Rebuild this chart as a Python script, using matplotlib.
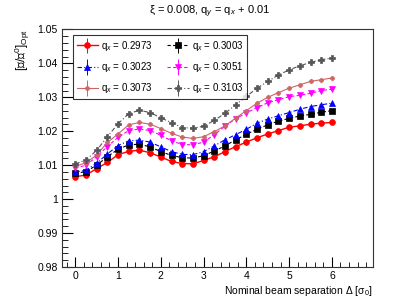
import matplotlib
matplotlib.use("Agg")
import matplotlib.pyplot as plt
from matplotlib.ticker import MultipleLocator, FixedLocator
from matplotlib.container import ErrorbarContainer
from matplotlib.legend_handler import HandlerErrorbar
import numpy as np

plt.rcParams['font.family'] = ['Liberation Sans', 'DejaVu Sans']
plt.rcParams['mathtext.fontset'] = 'custom'
plt.rcParams['mathtext.rm'] = 'Liberation Sans'
plt.rcParams['mathtext.it'] = 'Liberation Sans:italic'

separation = [0.0, 0.25, 0.5, 0.75, 1.0, 1.25, 1.5, 1.75, 2.0, 2.25, 2.5, 2.75, 3.0,
              3.25, 3.5, 3.75, 4.0, 4.25, 4.5, 4.75, 5.0, 5.25, 5.5, 5.75, 6.0]

q_2973 = [1.0066, 1.0071, 1.0090, 1.0108, 1.0131, 1.0141, 1.0144, 1.0137, 1.0124, 1.0111,
          1.0105, 1.0104, 1.0114, 1.0125, 1.0140, 1.0155, 1.0168, 1.0181, 1.0192, 1.0202,
          1.0212, 1.0216, 1.0221, 1.0224, 1.0226]
q_3003 = [1.0076, 1.0081, 1.0100, 1.0125, 1.0147, 1.0160, 1.0162, 1.0154, 1.0140, 1.0129,
          1.0122, 1.0121, 1.0128, 1.0142, 1.0157, 1.0175, 1.0191, 1.0206, 1.0219, 1.0230,
          1.0238, 1.0245, 1.0250, 1.0256, 1.0261]
q_3023 = [1.0080, 1.0085, 1.0106, 1.0133, 1.0158, 1.0172, 1.0174, 1.0168, 1.0154, 1.0140,
          1.0132, 1.0131, 1.0140, 1.0157, 1.0175, 1.0190, 1.0206, 1.0224, 1.0236, 1.0246,
          1.0255, 1.0265, 1.0273, 1.0278, 1.0283]
q_3051 = [1.0091, 1.0100, 1.0125, 1.0155, 1.0182, 1.0202, 1.0207, 1.0202, 1.0188, 1.0172,
          1.0161, 1.0160, 1.0168, 1.0190, 1.0215, 1.0237, 1.0254, 1.0270, 1.0284, 1.0293,
          1.0302, 1.0306, 1.0312, 1.0320, 1.0324]
q_3073 = [1.0097, 1.0107, 1.0130, 1.0167, 1.0192, 1.0219, 1.0226, 1.0221, 1.0208, 1.0194,
          1.0183, 1.0179, 1.0184, 1.0199, 1.0216, 1.0239, 1.0261, 1.0283, 1.0300, 1.0314,
          1.0327, 1.0337, 1.0347, 1.0352, 1.0357]
q_3103 = [1.0104, 1.0115, 1.0144, 1.0184, 1.0222, 1.0252, 1.0262, 1.0255, 1.0240, 1.0225,
          1.0211, 1.0209, 1.0215, 1.0232, 1.0253, 1.0278, 1.0303, 1.0327, 1.0347, 1.0366,
          1.0381, 1.0393, 1.0403, 1.0411, 1.0416]

labels = ['0.2973', '0.3003', '0.3023', '0.3051', '0.3073', '0.3103']
series = [q_2973, q_3003, q_3023, q_3051, q_3073, q_3103]
colors = ['#ff0000', '#000000', '#0000ff', '#ff00ff', '#cc6666', '#555555']
markers = ['o', 's', '^', 'v', 'P', 'P']
msizes = [4.2, 4.2, 4.2, 4.2, 3.2, 4.5]
lstyles = ['-', (0, (3, 2)), (0, (4, 2, 1, 2)), (0, (3, 2)), '-', (0, (4, 2, 1, 2))]
lwidths = [1.0, 0.8, 0.8, 0.8, 0.8, 0.8]

fig = plt.figure(figsize=(4.15, 3.0), dpi=100)
ax = fig.add_axes([0.1494, 0.11, 0.7494, 0.7917])

handles = []
for y, lab, c, m, ms, ls, lw in zip(series, labels, colors, markers, msizes, lstyles, lwidths):
    ax.plot(separation, y, color=c, marker=m, markersize=ms, linestyle=ls,
            linewidth=lw, markeredgewidth=0.5)
    # legend proxy (error-bar style entry, no data)
    h = ax.errorbar([], [], yerr=[], color=c, marker=m, markersize=ms,
                    linestyle=ls, linewidth=lw, elinewidth=0.7, capsize=1.5,
                    markeredgewidth=0.5, label=r'q$_{x}$ = ' + lab)
    handles.append(h)

ax.set_xlim(-0.31, 6.96)
ax.set_ylim(0.98, 1.05)
ax.xaxis.set_major_locator(FixedLocator([0, 1, 2, 3, 4, 5, 6]))
ax.xaxis.set_minor_locator(MultipleLocator(0.2))
ax.yaxis.set_minor_locator(MultipleLocator(0.002))
ax.set_yticks([0.98, 0.99, 1.0, 1.01, 1.02, 1.03, 1.04, 1.05])
ax.set_yticklabels(['0.98', '0.99', '1', '1.01', '1.02', '1.03', '1.04', '1.05'])
ax.set_xticklabels(['0', '1', '2', '3', '4', '5', '6'])

ax.tick_params(axis='both', which='both', direction='in', top=False, right=False,
               labelsize=7.5, color='black', pad=3)
ax.tick_params(axis='y', which='major', length=8, width=0.8)
ax.tick_params(axis='y', which='minor', length=4, width=0.6)
ax.tick_params(axis='x', which='major', length=7, width=0.8)
ax.tick_params(axis='x', which='minor', length=3.5, width=0.6)
for s in ax.spines.values():
    s.set_linewidth(0.8)
    s.set_color('#333333')

fig.text(0.505, 0.96, r'ξ = 0.008, q$_{y}$ = q$_{x}$ + 0.01', ha='center', va='center',
         fontsize=8)
ax.set_xlabel(r'Nominal beam separation Δ [σ$_{0}$]', fontsize=7.5,
              ha='right', x=1.0, labelpad=2)
ax.set_ylabel(r'[ℒ/ℒ$^{0}$]$_{\rm Opt}$', fontsize=8.5,
              ha='right', y=1.0, labelpad=4)

order = [0, 2, 4, 1, 3, 5]
leg = ax.legend(handles=[handles[i] for i in order], ncol=2, loc='upper left',
                bbox_to_anchor=(0.035, 0.754, 0.56, 0.223), mode='expand',
                fontsize=7, frameon=True, fancybox=False, edgecolor='black',
                borderpad=0.4, labelspacing=0.75, handlelength=2.2, handletextpad=0.3,
                columnspacing=1.0, borderaxespad=0,
                handler_map={ErrorbarContainer: HandlerErrorbar(xerr_size=0.8, yerr_size=0.8)})
leg.get_frame().set_linewidth(0.8)

fig.savefig('out.png', dpi=100)
